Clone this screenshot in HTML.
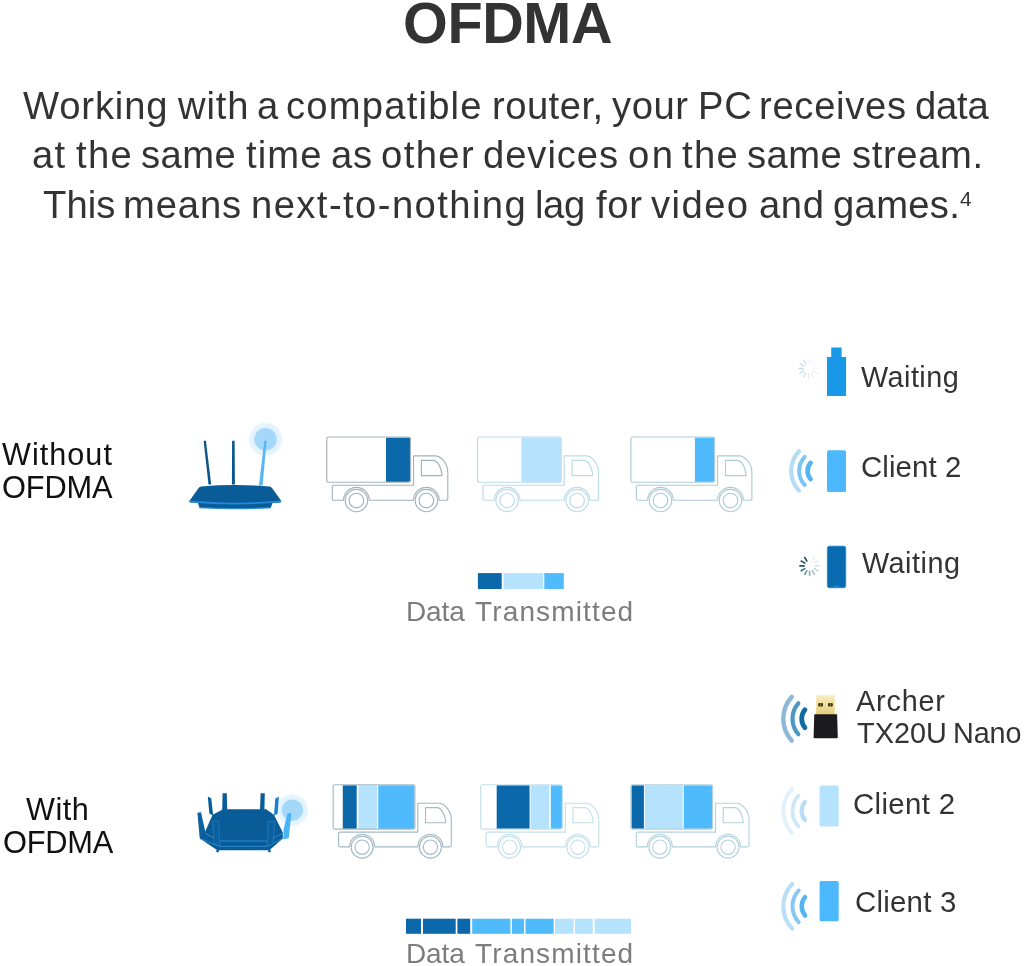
<!DOCTYPE html>
<html>
<head>
<meta charset="utf-8">
<title>OFDMA</title>
<style>
html,body{margin:0;padding:0;background:#fff;overflow:hidden;}
#root{position:absolute;left:0;top:0;width:1024px;height:966px;overflow:hidden;background:#fff;}
body{width:1024px;height:966px;position:relative;overflow:hidden;font-family:"Liberation Sans",sans-serif;color:#333;}
.t{position:absolute;white-space:nowrap;line-height:1;transform-origin:0 0;will-change:transform;}
.p{font-size:38.2px;color:#333;}
svg{position:absolute;left:0;top:0;}
</style>
</head>
<body>
<div id="root">
<div class="t" id="title" style="left:402.6px;top:-4.96px;font-size:57.6px;letter-spacing:-0.412px;font-weight:bold;color:#333;">OFDMA</div>
<!--PARA-->
<div class="t p" style="left:23.20px;top:86.76px;letter-spacing:0.863px;">Working</div>
<div class="t p" style="left:178.00px;top:86.76px;letter-spacing:0.843px;">with</div>
<div class="t p" style="left:257.00px;top:86.76px;letter-spacing:0.000px;">a</div>
<div class="t p" style="left:286.20px;top:86.76px;letter-spacing:1.207px;">compatible</div>
<div class="t p" style="left:491.50px;top:86.76px;letter-spacing:0.475px;">router,</div>
<div class="t p" style="left:612.00px;top:86.76px;letter-spacing:0.543px;">your</div>
<div class="t p" style="left:697.70px;top:86.76px;letter-spacing:0.829px;">PC</div>
<div class="t p" style="left:758.50px;top:86.76px;letter-spacing:0.700px;">receives</div>
<div class="t p" style="left:915.20px;top:86.76px;letter-spacing:-0.195px;">data</div>
<div class="t p" style="left:32.00px;top:136.26px;letter-spacing:1.262px;">at</div>
<div class="t p" style="left:75.50px;top:136.26px;letter-spacing:1.326px;">the</div>
<div class="t p" style="left:141.00px;top:136.26px;letter-spacing:0.453px;">same</div>
<div class="t p" style="left:246.20px;top:136.26px;letter-spacing:1.132px;">time</div>
<div class="t p" style="left:330.50px;top:136.26px;letter-spacing:0.762px;">as</div>
<div class="t p" style="left:380.50px;top:136.26px;letter-spacing:1.419px;">other</div>
<div class="t p" style="left:483.00px;top:136.26px;letter-spacing:0.936px;">devices</div>
<div class="t p" style="left:628.00px;top:136.26px;letter-spacing:2.462px;">on</div>
<div class="t p" style="left:682.00px;top:136.26px;letter-spacing:1.326px;">the</div>
<div class="t p" style="left:747.00px;top:136.26px;letter-spacing:0.453px;">same</div>
<div class="t p" style="left:851.50px;top:136.26px;letter-spacing:0.632px;">stream.</div>
<div class="t p" style="left:42.50px;top:186.36px;letter-spacing:0.050px;">This</div>
<div class="t p" style="left:123.00px;top:186.36px;letter-spacing:0.869px;">means</div>
<div class="t p" style="left:250.50px;top:186.36px;letter-spacing:1.428px;">next-to-nothing</div>
<div class="t p" style="left:535.20px;top:186.36px;letter-spacing:-0.361px;">lag</div>
<div class="t p" style="left:595.70px;top:186.36px;letter-spacing:0.726px;">for</div>
<div class="t p" style="left:650.70px;top:186.36px;letter-spacing:1.437px;">video</div>
<div class="t p" style="left:758.50px;top:186.36px;letter-spacing:0.612px;">and</div>
<div class="t p" style="left:832.70px;top:186.36px;letter-spacing:0.336px;">games.</div>
<!--/PARA-->
<div class="t" id="wo1" style="left:2.3px;top:438.7px;font-size:30.6px;letter-spacing:1.03px;color:#111;">Without</div>
<div class="t" id="wo2" style="left:1.8px;top:472.83px;font-size:30.8px;letter-spacing:-0.19px;color:#111;">OFDMA</div>
<div class="t" id="wi1" style="left:26.4px;top:793.7px;font-size:30.6px;letter-spacing:0.542px;color:#111;">With</div>
<div class="t" id="wi2" style="left:2.8px;top:827.83px;font-size:30.8px;letter-spacing:-0.215px;color:#111;">OFDMA</div>
<div class="t" id="c1" style="left:861px;top:363.12px;font-size:28.8px;letter-spacing:0.46px;color:#333;">Waiting</div>
<div class="t" id="c2" style="left:860.6px;top:452.11px;font-size:29.4px;letter-spacing:0.113px;color:#333;">Client 2</div>
<div class="t" id="c3" style="left:862.4px;top:548.62px;font-size:28.8px;letter-spacing:0.494px;color:#333;">Waiting</div>
<div class="t" id="c4" style="left:856.3px;top:687.42px;font-size:28.8px;letter-spacing:0.815px;color:#333;">Archer</div>
<div class="t" id="c5" style="left:856.5px;top:718.62px;font-size:28.8px;letter-spacing:0.068px;color:#333;">TX20U</div>
<div class="t" id="c5b" style="left:953.4px;top:718.62px;font-size:28.8px;letter-spacing:-0.142px;color:#333;">Nano</div>
<div class="t" id="c6" style="left:852.9px;top:788.81px;font-size:29.4px;letter-spacing:0.342px;color:#333;">Client 2</div>
<div class="t" id="c7" style="left:854.6px;top:886.81px;font-size:29.4px;letter-spacing:0.242px;color:#333;">Client 3</div>
<div class="t" id="d1" style="left:406.2px;top:597.8px;font-size:28px;letter-spacing:-0.13px;color:#7d7d7d;">Data</div>
<div class="t" id="d1b" style="left:474.5px;top:597.8px;font-size:28px;letter-spacing:1.14px;color:#7d7d7d;">Transmitted</div>
<div class="t" id="d2" style="left:406.2px;top:940.1px;font-size:28px;letter-spacing:-0.13px;color:#7d7d7d;">Data</div>
<div class="t" id="d2b" style="left:474.5px;top:940.1px;font-size:28px;letter-spacing:1.14px;color:#7d7d7d;">Transmitted</div>
<div class="t" id="sup" style="left:959.6px;top:188.6px;font-size:20.8px;color:#333;">4</div>

<svg id="art" width="1024" height="966" viewBox="0 0 1024 966">
<defs><clipPath id="cb"><rect x="0.3" y="0.3" width="83.1" height="44.6" rx="1.8" ry="1.8"/></clipPath></defs>
<!-- trucks top row -->
<g transform="translate(326.8 437) scale(1)" fill="none" stroke="#a1b3bd" stroke-width="1.15" stroke-linejoin="round">
<rect x="59.20" y="0.5" width="24.30" height="44.4" fill="#0b69ab" stroke="none" clip-path="url(#cb)"/>
<rect x="0" y="0" width="83.7" height="45.2" rx="1.6" ry="1.6"/>
<path d="M5.5 49.7 Q5.5 48.2 7 48.2 H86.7 V18.8 H108 C114.5 18.8 121 27 121 35.5 V61.6 Q121 63.2 119.4 63.2 H112.4 A12.8 12.8 0 0 0 86.8 63.2 H42.4 A12.8 12.8 0 0 0 16.8 63.2 H7 Q5.5 63.2 5.5 61.6 Z"/>
<path d="M94.6 23.3 H106.5 C110.5 23.3 115.2 31 115.2 38.6 H94.6 Z"/>
<circle cx="29.6" cy="63.5" r="11.2"/><circle cx="29.6" cy="63.5" r="7.3"/>
<circle cx="99.6" cy="63.5" r="11.2"/><circle cx="99.6" cy="63.5" r="7.3"/>
</g>
<g transform="translate(477.5 437) scale(1)" fill="none" stroke="#bcdbe7" stroke-width="1.15" stroke-linejoin="round">
<rect x="43.80" y="0.5" width="39.70" height="44.4" fill="#b5e2fc" stroke="none" clip-path="url(#cb)"/>
<rect x="0" y="0" width="83.7" height="45.2" rx="1.6" ry="1.6"/>
<path d="M5.5 49.7 Q5.5 48.2 7 48.2 H86.7 V18.8 H108 C114.5 18.8 121 27 121 35.5 V61.6 Q121 63.2 119.4 63.2 H112.4 A12.8 12.8 0 0 0 86.8 63.2 H42.4 A12.8 12.8 0 0 0 16.8 63.2 H7 Q5.5 63.2 5.5 61.6 Z"/>
<path d="M94.6 23.3 H106.5 C110.5 23.3 115.2 31 115.2 38.6 H94.6 Z"/>
<circle cx="29.6" cy="63.5" r="11.2"/><circle cx="29.6" cy="63.5" r="7.3"/>
<circle cx="99.6" cy="63.5" r="11.2"/><circle cx="99.6" cy="63.5" r="7.3"/>
</g>
<g transform="translate(630.9 437) scale(1)" fill="none" stroke="#aecbd8" stroke-width="1.15" stroke-linejoin="round">
<rect x="64.00" y="0.5" width="19.50" height="44.4" fill="#4fbafc" stroke="none" clip-path="url(#cb)"/>
<rect x="0" y="0" width="83.7" height="45.2" rx="1.6" ry="1.6"/>
<path d="M5.5 49.7 Q5.5 48.2 7 48.2 H86.7 V18.8 H108 C114.5 18.8 121 27 121 35.5 V61.6 Q121 63.2 119.4 63.2 H112.4 A12.8 12.8 0 0 0 86.8 63.2 H42.4 A12.8 12.8 0 0 0 16.8 63.2 H7 Q5.5 63.2 5.5 61.6 Z"/>
<path d="M94.6 23.3 H106.5 C110.5 23.3 115.2 31 115.2 38.6 H94.6 Z"/>
<circle cx="29.6" cy="63.5" r="11.2"/><circle cx="29.6" cy="63.5" r="7.3"/>
<circle cx="99.6" cy="63.5" r="11.2"/><circle cx="99.6" cy="63.5" r="7.3"/>
</g>
<!-- trucks bottom row -->
<g transform="translate(333.2 784.8) scale(0.976 0.982)" fill="none" stroke="#a3b9c4" stroke-width="1.15" stroke-linejoin="round">
<rect x="9.83" y="0.5" width="14.23" height="44.4" fill="#0b69ab" stroke="none" clip-path="url(#cb)"/>
<rect x="25.90" y="0.5" width="18.94" height="44.4" fill="#b5e2fc" stroke="none" clip-path="url(#cb)"/>
<rect x="46.16" y="0.5" width="37.36" height="44.4" fill="#4fbafc" stroke="none" clip-path="url(#cb)"/>
<rect x="0" y="0" width="83.7" height="45.2" rx="1.6" ry="1.6"/>
<path d="M5.5 49.7 Q5.5 48.2 7 48.2 H86.7 V18.8 H108 C114.5 18.8 121 27 121 35.5 V61.6 Q121 63.2 119.4 63.2 H112.4 A12.8 12.8 0 0 0 86.8 63.2 H42.4 A12.8 12.8 0 0 0 16.8 63.2 H7 Q5.5 63.2 5.5 61.6 Z"/>
<path d="M94.6 23.3 H106.5 C110.5 23.3 115.2 31 115.2 38.6 H94.6 Z"/>
<circle cx="29.6" cy="63.5" r="11.2"/><circle cx="29.6" cy="63.5" r="7.3"/>
<circle cx="99.6" cy="63.5" r="11.2"/><circle cx="99.6" cy="63.5" r="7.3"/>
</g>
<g transform="translate(480.7 784.8) scale(0.976 0.982)" fill="none" stroke="#c4e0ea" stroke-width="1.15" stroke-linejoin="round">
<rect x="16.38" y="0.5" width="33.67" height="44.4" fill="#0b69ab" stroke="none" clip-path="url(#cb)"/>
<rect x="51.07" y="0.5" width="19.14" height="44.4" fill="#b5e2fc" stroke="none" clip-path="url(#cb)"/>
<rect x="71.85" y="0.5" width="11.98" height="44.4" fill="#4fbafc" stroke="none" clip-path="url(#cb)"/>
<rect x="0" y="0" width="83.7" height="45.2" rx="1.6" ry="1.6"/>
<path d="M5.5 49.7 Q5.5 48.2 7 48.2 H86.7 V18.8 H108 C114.5 18.8 121 27 121 35.5 V61.6 Q121 63.2 119.4 63.2 H112.4 A12.8 12.8 0 0 0 86.8 63.2 H42.4 A12.8 12.8 0 0 0 16.8 63.2 H7 Q5.5 63.2 5.5 61.6 Z"/>
<path d="M94.6 23.3 H106.5 C110.5 23.3 115.2 31 115.2 38.6 H94.6 Z"/>
<circle cx="29.6" cy="63.5" r="11.2"/><circle cx="29.6" cy="63.5" r="7.3"/>
<circle cx="99.6" cy="63.5" r="11.2"/><circle cx="99.6" cy="63.5" r="7.3"/>
</g>
<g transform="translate(630.9 784.8) scale(0.976 0.982)" fill="none" stroke="#b4d2de" stroke-width="1.15" stroke-linejoin="round">
<rect x="0.41" y="0.5" width="12.90" height="44.4" fill="#0b69ab" stroke="none" clip-path="url(#cb)"/>
<rect x="14.23" y="0.5" width="38.89" height="44.4" fill="#b5e2fc" stroke="none" clip-path="url(#cb)"/>
<rect x="54.15" y="0.5" width="29.48" height="44.4" fill="#4fbafc" stroke="none" clip-path="url(#cb)"/>
<rect x="0" y="0" width="83.7" height="45.2" rx="1.6" ry="1.6"/>
<path d="M5.5 49.7 Q5.5 48.2 7 48.2 H86.7 V18.8 H108 C114.5 18.8 121 27 121 35.5 V61.6 Q121 63.2 119.4 63.2 H112.4 A12.8 12.8 0 0 0 86.8 63.2 H42.4 A12.8 12.8 0 0 0 16.8 63.2 H7 Q5.5 63.2 5.5 61.6 Z"/>
<path d="M94.6 23.3 H106.5 C110.5 23.3 115.2 31 115.2 38.6 H94.6 Z"/>
<circle cx="29.6" cy="63.5" r="11.2"/><circle cx="29.6" cy="63.5" r="7.3"/>
<circle cx="99.6" cy="63.5" r="11.2"/><circle cx="99.6" cy="63.5" r="7.3"/>
</g>
<!-- bar 1 -->
<rect x="477.9" y="573.1" width="23.8" height="15.9" fill="#0b69ab"/>
<rect x="503.6" y="573.1" width="39.6" height="15.9" fill="#b5e2fc"/>
<rect x="544.3" y="573.1" width="19.5" height="15.9" fill="#4fbafc"/>
<!-- bar 2 -->
<rect x="406" y="918.7" width="15.0" height="15.1" fill="#0b69ab"/>
<rect x="423" y="918.7" width="32.7" height="15.1" fill="#0b69ab"/>
<rect x="457.4" y="918.7" width="12.8" height="15.1" fill="#0b69ab"/>
<rect x="472.2" y="918.7" width="38.2" height="15.1" fill="#4fbafc"/>
<rect x="512" y="918.7" width="12.0" height="15.1" fill="#4fbafc"/>
<rect x="525.5" y="918.7" width="28.1" height="15.1" fill="#4fbafc"/>
<rect x="555" y="918.7" width="18.6" height="15.1" fill="#b5e2fc"/>
<rect x="575" y="918.7" width="17.7" height="15.1" fill="#b5e2fc"/>
<rect x="594.7" y="918.7" width="36.3" height="15.1" fill="#b5e2fc"/>
<!-- router 1 -->
<defs><radialGradient id="glow"><stop offset="0" stop-color="#a3d8fb"/><stop offset="0.6" stop-color="#a3d8fb"/><stop offset="0.64" stop-color="#dff1fd"/><stop offset="0.9" stop-color="#eaf6fe"/><stop offset="1" stop-color="#ffffff" stop-opacity="0"/></radialGradient></defs>
<circle cx="265.5" cy="439.3" r="18" fill="url(#glow)"/>
<path d="M203.6 440.7 L205.9 440.7 L211.2 484.6 L208.5 484.6 Z" fill="#0a558e"/>
<path d="M232.1 440.7 L234.6 440.7 L234.9 484.6 L231.9 484.6 Z" fill="#0a558e"/>
<path d="M264.3 440.7 L266.6 440.7 L262.6 485.4 L258.9 485.4 Z" fill="#5bb5f3"/>
<path d="M199.5 508.2 Q235 510.5 270.8 508.2 L272.5 503 L198 503 Z" fill="#2a8ddb"/>
<path d="M199.8 507.2 Q235 508.8 270.5 507.2 L272.5 502.5 L198 502.5 Z" fill="#0a5c99"/>
<path d="M201 486.4 Q235 483.8 269.6 486.4 Q271 486.6 272 488 L281 500.5 Q281.6 502 280 502.6 Q235 506.6 190.6 502.6 Q189 502 189.7 500.5 L198.6 488 Q199.6 486.6 201 486.4 Z" fill="#0a5c99"/>
<path d="M189.5 500.6 Q235 504.8 281.1 500.6 L281.3 502.2 Q235 506.6 189.3 502.2 Z" fill="#2189d8"/>
<!-- router 2 -->
<circle cx="292.3" cy="810.1" r="17" fill="url(#glow)"/>
<path d="M222.6 793.2 H226.8 L227.2 810 H222.2 Z" fill="#0a5c99"/>
<path d="M260.6 793.2 H264.8 L264.4 810 H260 Z" fill="#0a5c99"/>
<path d="M207.8 796.6 L211.2 798.2 L213.2 815.5 L209.3 813.5 Z" fill="#0a5c99"/>
<path d="M278.9 796.8 L275.3 798.6 L274 815.5 L277.6 813.8 Z" fill="#1b7fd0"/>
<path d="M197.4 812.8 L201 812.2 L205.6 833 L199.6 837 Z" fill="#0c62a1"/>
<path d="M287.6 813 L291.4 813.2 L288.8 838 L283.2 839.6 L283.6 829 Z" fill="#4ab4f8"/>
<path d="M223.1 809.2 H266.2 L273.9 814.8 L282.8 832.4 V838.4 L269.4 850.3 H217.4 L199.8 838.6 V836.6 L205.2 831.5 L212.6 814.8 Z" fill="#0a5c99"/>
<path d="M204.8 833.2 L219.3 841 H267.5 L282.6 833.5 M200.5 838.8 L219.3 846.4 H267.5 L282 838.8" fill="none" stroke="#2a88d0" stroke-width="1"/>
<path d="M212.6 821 L218.6 821.6 L219.8 846 L214.2 843.8 Z" fill="#0b609f" stroke="#2580c6" stroke-width="0.7"/>
<path d="M268.2 821.6 L274.8 821 L273.2 843.8 L267.4 846 Z" fill="#0b609f" stroke="#2580c6" stroke-width="0.7"/>
<rect x="216.4" y="850" width="2.4" height="2.2" fill="#0a5c99"/><rect x="268.2" y="850" width="2.4" height="2.2" fill="#0a5c99"/>
<!-- row1: usb stick + faded spinner -->
<path d="M831.25 347.4 H841.6 V357 H846.1 V395.9 H827 V357 H831.25 Z" fill="#1a98e8"/>
<line x1="808.40" y1="363.10" x2="808.40" y2="359.10" stroke="#f3f6f8" stroke-width="1.5" stroke-linecap="round"/>
<line x1="811.10" y1="363.82" x2="813.10" y2="360.36" stroke="#f4f7f9" stroke-width="1.5" stroke-linecap="round"/>
<line x1="813.08" y1="365.80" x2="816.54" y2="363.80" stroke="#f4f7f9" stroke-width="1.5" stroke-linecap="round"/>
<line x1="813.80" y1="368.50" x2="817.80" y2="368.50" stroke="#f1f5f7" stroke-width="1.5" stroke-linecap="round"/>
<line x1="813.08" y1="371.20" x2="816.54" y2="373.20" stroke="#ecf1f4" stroke-width="1.5" stroke-linecap="round"/>
<line x1="811.10" y1="373.18" x2="813.10" y2="376.64" stroke="#e6edf1" stroke-width="1.5" stroke-linecap="round"/>
<line x1="808.40" y1="373.90" x2="808.40" y2="377.90" stroke="#dfe9ee" stroke-width="1.5" stroke-linecap="round"/>
<line x1="805.70" y1="373.18" x2="803.70" y2="376.64" stroke="#d5e3ea" stroke-width="1.5" stroke-linecap="round"/>
<line x1="803.72" y1="371.20" x2="800.26" y2="373.20" stroke="#cddee7" stroke-width="1.5" stroke-linecap="round"/>
<line x1="803.00" y1="368.50" x2="799.00" y2="368.50" stroke="#c8dbe5" stroke-width="1.5" stroke-linecap="round"/>
<line x1="803.72" y1="365.80" x2="800.26" y2="363.80" stroke="#c5dae5" stroke-width="1.5" stroke-linecap="round"/>
<line x1="805.70" y1="363.82" x2="803.70" y2="360.36" stroke="#d0e1ea" stroke-width="1.5" stroke-linecap="round"/>
<!-- row2: phone + arcs -->
<rect x="827" y="450.2" width="19" height="41.8" rx="1.6" fill="#4db8fb"/>
<path d="M810.57 462.85 A12.4 12.4 0 0 0 810.57 478.95" fill="none" stroke="#52b4f0" stroke-width="4.6" stroke-linecap="round"/>
<path d="M804.67 456.84 A20.8 20.8 0 0 0 804.67 484.96" fill="none" stroke="#7cc4f2" stroke-width="4.0" stroke-linecap="round"/>
<path d="M798.99 451.20 A28.8 28.8 0 0 0 798.99 490.60" fill="none" stroke="#b4dcf5" stroke-width="4.2" stroke-linecap="round"/>
<!-- row3: dark phone + spinner -->
<rect x="827.4" y="546.2" width="18.3" height="41.5" rx="2" fill="#0a6cb0" stroke="#1f86cf" stroke-width="0.9"/>
<line x1="834.5" y1="586.4" x2="838.8" y2="586.4" stroke="#3aa0e8" stroke-width="0.8"/>
<line x1="812.35" y1="561.14" x2="814.45" y2="557.50" stroke="#eef2f4" stroke-width="1.6" stroke-linecap="round"/>
<line x1="814.36" y1="563.15" x2="818.00" y2="561.05" stroke="#e8edf0" stroke-width="1.6" stroke-linecap="round"/>
<line x1="815.10" y1="565.90" x2="819.30" y2="565.90" stroke="#dde5e9" stroke-width="1.6" stroke-linecap="round"/>
<line x1="814.36" y1="568.65" x2="818.00" y2="570.75" stroke="#c5d3da" stroke-width="1.6" stroke-linecap="round"/>
<line x1="812.35" y1="570.66" x2="814.45" y2="574.30" stroke="#a9bdc8" stroke-width="1.6" stroke-linecap="round"/>
<line x1="809.60" y1="571.40" x2="809.60" y2="575.60" stroke="#8fa9b8" stroke-width="1.6" stroke-linecap="round"/>
<line x1="806.85" y1="570.66" x2="804.75" y2="574.30" stroke="#6f8fa3" stroke-width="1.6" stroke-linecap="round"/>
<line x1="804.84" y1="568.65" x2="801.20" y2="570.75" stroke="#3f6a85" stroke-width="1.6" stroke-linecap="round"/>
<line x1="804.10" y1="565.90" x2="799.90" y2="565.90" stroke="#22506f" stroke-width="1.6" stroke-linecap="round"/>
<line x1="804.84" y1="563.15" x2="801.20" y2="561.05" stroke="#1f4a66" stroke-width="1.6" stroke-linecap="round"/>
<line x1="806.85" y1="561.14" x2="804.75" y2="557.50" stroke="#1f4a66" stroke-width="1.6" stroke-linecap="round"/>
<!-- archer nano -->
<defs><linearGradient id="gold" x1="0" y1="0" x2="0" y2="1"><stop offset="0" stop-color="#f6efc9"/><stop offset="0.35" stop-color="#f0e2a2"/><stop offset="1" stop-color="#e6cf7c"/></linearGradient></defs>
<rect x="816.1" y="695.2" width="18.7" height="19.6" fill="url(#gold)"/>
<rect x="818.2" y="703.1" width="4.8" height="3.4" rx="1" fill="#3a331c"/><rect x="828" y="703.1" width="4.8" height="3.4" rx="1" fill="#3a331c"/>
<line x1="820.6" y1="703.1" x2="820.6" y2="706.5" stroke="#b8a55e" stroke-width="0.7"/><line x1="830.4" y1="703.1" x2="830.4" y2="706.5" stroke="#b8a55e" stroke-width="0.7"/>
<path d="M814.3 714.3 H837.1 L837.8 737.2 Q837.8 738.2 836.8 738.2 H814.6 Q813.6 738.2 813.6 737.2 Z" fill="#1b1b1f"/>
<path d="M804.95 709.75 A14.1 14.1 0 0 0 804.95 727.75" fill="none" stroke="#0f6aa3" stroke-width="4.8" stroke-linecap="round"/>
<path d="M798.31 703.35 A23.3 23.3 0 0 0 798.31 734.15" fill="none" stroke="#4b97c5" stroke-width="4.2" stroke-linecap="round"/>
<path d="M791.70 696.95 A32.5 32.5 0 0 0 791.70 740.55" fill="none" stroke="#8db9d6" stroke-width="4.5" stroke-linecap="round"/>
<!-- client 2 faded -->
<rect x="819.6" y="785.6" width="19.1" height="41" rx="1.6" fill="#b5e2fc"/>
<path d="M804.95 802.00 A14.1 14.1 0 0 0 804.95 820.00" fill="none" stroke="#b9ddf5" stroke-width="4.3" stroke-linecap="round"/>
<path d="M798.49 795.40 A23.3 23.3 0 0 0 798.49 826.60" fill="none" stroke="#cfe8f8" stroke-width="3.8" stroke-linecap="round"/>
<path d="M791.88 789.00 A32.5 32.5 0 0 0 791.88 833.00" fill="none" stroke="#e3f1fb" stroke-width="4.0" stroke-linecap="round"/>
<!-- client 3 -->
<rect x="819.6" y="880.9" width="19.1" height="40.4" rx="1.6" fill="#4db8fb"/>
<path d="M805.07 897.15 A14.1 14.1 0 0 0 805.07 915.45" fill="none" stroke="#52b4f0" stroke-width="4.5" stroke-linecap="round"/>
<path d="M798.68 890.50 A23.3 23.3 0 0 0 798.68 922.10" fill="none" stroke="#86c8f3" stroke-width="4.0" stroke-linecap="round"/>
<path d="M792.16 884.00 A32.5 32.5 0 0 0 792.16 928.60" fill="none" stroke="#b9def6" stroke-width="4.2" stroke-linecap="round"/>
<!--ICONS-END-->
</svg>
</div>
</body>
</html>
